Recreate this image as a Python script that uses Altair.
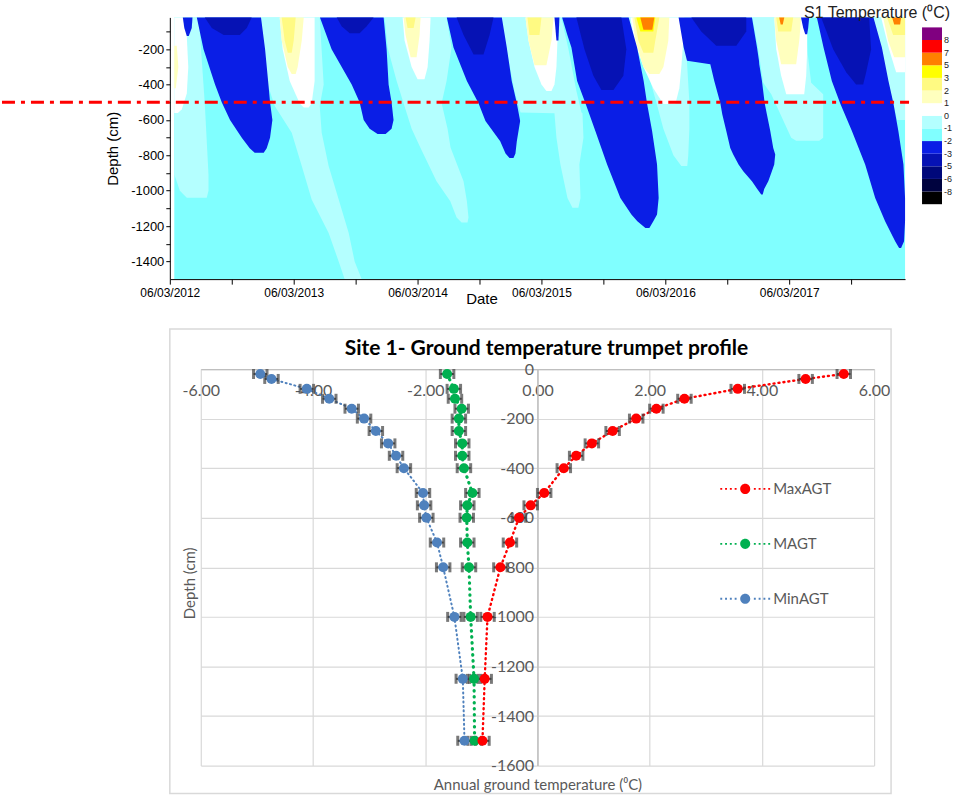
import bisect
import altair as alt
import pandas as pd

# ======================= TOP PANEL: S1 temperature contour =======================
# colour-bar class limits (degC) and class colours, from coldest to warmest
temp_thresholds = [-8, -6, -5, -3, -2, -1, 0, 1, 2, 3, 5, 7, 8]
temp_colors = ["#000000", "#00033F", "#00087A", "#0612B4", "#0A1EE6", "#80FFFF", "#B4FFFF",
               "#FFFFFF", "#FFFFBE", "#FFFA82", "#FFFF00", "#FF8000", "#FF0000", "#800080"]

# time in decimal years (06/03 = .178); ticks every half year
time_range = [2012.178, 2018.113]
date_ticks = [2012.178, 2012.678, 2013.178, 2013.678, 2014.178, 2014.678,
              2015.178, 2015.678, 2016.178, 2016.678, 2017.178, 2017.678]
depth_range = [-1500, -20]
depth_ticks = [-1400, -1300, -1200, -1100, -1000, -900, -800, -700, -600,
               -500, -400, -300, -200, -100]
threshold_line_depth = [-500]

# representative temperature of each contour class
class_temp = {"bg": -1.5, "lc": -0.5, "w": 0.5, "py": 1.5, "ly": 2.5,
              "yl": 4.0, "or": 6.0, "bl": -2.5, "core": -4.0}

# each contour region: [depth (cm), start (year), end (year)]
bg_all = [[-20, 2012.214, 2018.113], [-1500, 2012.214, 2018.113]]

lc_2012 = [[-20, 2012.214, 2012.412], [-506, 2012.214, 2012.460], [-907, 2012.214, 2012.490],
           [-1000, 2012.259, 2012.490], [-1040, 2012.315, 2012.476]]
lc_2013 = [[-20, 2012.912, 2013.388], [-400, 2012.968, 2013.420], [-521, 2013.025, 2013.388],
           [-672, 2013.162, 2013.404], [-860, 2013.243, 2013.460], [-1050, 2013.323, 2013.541],
           [-1239, 2013.460, 2013.622], [-1400, 2013.541, 2013.670], [-1500, 2013.589, 2013.726]]
lc_2014 = [[-20, 2013.912, 2014.412], [-190, 2013.936, 2014.452], [-380, 2014.009, 2014.412],
           [-506, 2014.065, 2014.372], [-650, 2014.130, 2014.420], [-755, 2014.200, 2014.444],
           [-946, 2014.331, 2014.549], [-1060, 2014.442, 2014.576], [-1152, 2014.493, 2014.589],
           [-1180, 2014.533, 2014.581]]
lc_2015 = [[-20, 2014.855, 2015.339], [-200, 2014.896, 2015.396], [-436, 2014.960, 2015.460],
           [-558, 2015.009, 2015.501], [-562, 2015.283, 2015.509], [-700, 2015.299, 2015.517],
           [-852, 2015.331, 2015.484], [-1041, 2015.388, 2015.493], [-1097, 2015.428, 2015.476]]
lc_2016 = [[-20, 2015.880, 2016.291], [-200, 2015.952, 2016.347], [-300, 2016.025, 2016.355],
           [-500, 2016.105, 2016.372], [-650, 2016.162, 2016.372], [-800, 2016.243, 2016.363],
           [-860, 2016.307, 2016.355]]
lc_2017 = [[-20, 2016.880, 2017.315], [-200, 2016.928, 2017.323], [-390, 2016.968, 2017.355],
           [-455, 2017.033, 2017.452], [-700, 2017.194, 2017.452], [-717, 2017.234, 2017.420]]
lc_2018 = [[-20, 2017.855, 2018.113], [-380, 2017.976, 2018.113], [-506, 2018.017, 2018.113],
           [-600, 2018.049, 2018.113]]

w_2012 = [[-20, 2012.214, 2012.299], [-130, 2012.214, 2012.315], [-300, 2012.214, 2012.327],
          [-450, 2012.214, 2012.315], [-540, 2012.214, 2012.275], [-560, 2012.214, 2012.243]]
w_2013 = [[-20, 2013.065, 2013.347], [-200, 2013.089, 2013.347], [-380, 2013.146, 2013.347],
          [-506, 2013.226, 2013.323], [-530, 2013.259, 2013.299]]
w_2014 = [[-20, 2014.057, 2014.283], [-150, 2014.073, 2014.275], [-300, 2014.130, 2014.259],
          [-370, 2014.178, 2014.234]]
w_2015 = [[-20, 2015.049, 2015.307], [-150, 2015.073, 2015.307], [-300, 2015.122, 2015.299],
          [-400, 2015.178, 2015.283], [-436, 2015.218, 2015.259]]
w_2016 = [[-20, 2015.896, 2016.331], [-150, 2015.928, 2016.323], [-300, 2016.001, 2016.307],
          [-420, 2016.081, 2016.291], [-510, 2016.162, 2016.259]]
w_2017 = [[-20, 2017.057, 2017.323], [-200, 2017.073, 2017.323], [-350, 2017.113, 2017.315],
          [-455, 2017.154, 2017.299]]
w_2018 = [[-20, 2017.920, 2018.113], [-200, 2017.984, 2018.113], [-330, 2018.041, 2018.113]]

py_2012 = [[-180, 2012.214, 2012.234], [-300, 2012.214, 2012.247], [-420, 2012.214, 2012.226]]
py_2013 = [[-20, 2013.065, 2013.259], [-150, 2013.081, 2013.243], [-300, 2013.130, 2013.210],
           [-340, 2013.162, 2013.194]]
py_2014 = [[-20, 2014.065, 2014.202], [-120, 2014.081, 2014.194], [-245, 2014.122, 2014.170]]
py_2015 = [[-20, 2015.049, 2015.275], [-150, 2015.073, 2015.259], [-290, 2015.122, 2015.218]]
py_2016 = [[-20, 2015.912, 2016.210], [-150, 2015.936, 2016.202], [-300, 2016.001, 2016.162],
           [-340, 2016.049, 2016.130]]
py_2017 = [[-20, 2017.057, 2017.275], [-150, 2017.073, 2017.259], [-285, 2017.113, 2017.234]]
py_2018 = [[-20, 2017.936, 2018.113], [-150, 2017.976, 2018.113], [-245, 2018.025, 2018.113]]

ly_2013 = [[-20, 2013.081, 2013.194], [-150, 2013.105, 2013.178], [-220, 2013.130, 2013.162]]
ly_2014 = [[-20, 2014.081, 2014.162], [-80, 2014.097, 2014.146]]
ly_2015 = [[-20, 2015.065, 2015.178], [-120, 2015.081, 2015.162]]
ly_2016 = [[-20, 2015.928, 2016.130], [-150, 2015.960, 2016.097], [-220, 2016.001, 2016.081]]
ly_2017 = [[-20, 2017.073, 2017.210], [-100, 2017.089, 2017.194]]
ly_2018 = [[-20, 2017.968, 2018.113], [-120, 2018.017, 2018.113]]

yl_2016 = [[-20, 2015.944, 2016.097], [-100, 2015.976, 2016.081]]

or_2016 = [[-20, 2015.976, 2016.089], [-90, 2016.001, 2016.073]]
or_2017 = [[-20, 2017.097, 2017.138], [-60, 2017.109, 2017.126]]
or_2018 = [[-20, 2018.009, 2018.081], [-60, 2018.025, 2018.073]]

bl_2012a = [[-20, 2012.283, 2012.361], [-80, 2012.295, 2012.355], [-125, 2012.315, 2012.331]]
bl_2012 = [[-20, 2012.396, 2012.914], [-200, 2012.450, 2012.947], [-400, 2012.543, 2012.974],
           [-500, 2012.597, 2012.987], [-600, 2012.664, 2013.006], [-700, 2012.759, 2012.987],
           [-760, 2012.823, 2012.960], [-785, 2012.863, 2012.936]]
bl_2013 = [[-20, 2013.390, 2013.904], [-200, 2013.484, 2013.928], [-400, 2013.646, 2013.944],
           [-500, 2013.710, 2013.968], [-600, 2013.743, 2013.984], [-650, 2013.791, 2013.968],
           [-680, 2013.855, 2013.920]]
bl_2014 = [[-20, 2014.414, 2014.858], [-190, 2014.468, 2014.898], [-380, 2014.576, 2014.938],
           [-506, 2014.670, 2014.979], [-606, 2014.726, 2015.006], [-720, 2014.845, 2014.979],
           [-790, 2014.888, 2014.968], [-815, 2014.920, 2014.952]]
bl_2015a = [[-20, 2015.283, 2015.323], [-150, 2015.299, 2015.315]]
bl_2015 = [[-20, 2015.345, 2015.882], [-115, 2015.385, 2015.920], [-190, 2015.420, 2015.950],
           [-380, 2015.466, 2016.003], [-506, 2015.533, 2016.030], [-663, 2015.613, 2016.071],
           [-852, 2015.708, 2016.111], [-1041, 2015.815, 2016.124], [-1135, 2015.904, 2016.111],
           [-1173, 2015.952, 2016.081], [-1211, 2016.017, 2016.049]]
bl_2016 = [[-20, 2016.285, 2016.877], [-190, 2016.326, 2016.918], [-265, 2016.353, 2016.934],
           [-285, 2016.541, 2016.936], [-380, 2016.573, 2016.958], [-506, 2016.622, 2016.980],
           [-569, 2016.638, 2016.998], [-663, 2016.670, 2017.025], [-758, 2016.702, 2017.049],
           [-795, 2016.726, 2017.065], [-852, 2016.769, 2017.057], [-890, 2016.807, 2017.038],
           [-946, 2016.877, 2017.009], [-990, 2016.920, 2016.976], [-1022, 2016.952, 2016.964]]
bl_2017a = [[-20, 2017.273, 2017.339], [-80, 2017.291, 2017.331], [-115, 2017.307, 2017.323]]
bl_2017 = [[-20, 2017.401, 2017.858], [-190, 2017.455, 2017.926], [-380, 2017.522, 2017.979],
           [-506, 2017.589, 2018.019], [-663, 2017.684, 2018.059], [-852, 2017.791, 2018.100],
           [-1041, 2017.872, 2018.113], [-1173, 2017.952, 2018.113], [-1286, 2018.033, 2018.105],
           [-1324, 2018.065, 2018.081]]

core_2012 = [[-20, 2012.460, 2012.839], [-80, 2012.517, 2012.799], [-120, 2012.613, 2012.743]]
core_2013 = [[-20, 2013.525, 2013.823], [-70, 2013.565, 2013.767], [-110, 2013.630, 2013.710]]
core_2014 = [[-20, 2014.493, 2014.791], [-120, 2014.549, 2014.759], [-230, 2014.630, 2014.710]]
core_2015 = [[-20, 2015.460, 2015.823], [-200, 2015.525, 2015.863], [-350, 2015.597, 2015.839],
             [-430, 2015.662, 2015.759]]
core_2016 = [[-20, 2016.388, 2016.831], [-100, 2016.468, 2016.831], [-180, 2016.589, 2016.751]]
core_2017 = [[-20, 2017.436, 2017.823], [-200, 2017.533, 2017.839], [-330, 2017.638, 2017.799],
             [-400, 2017.718, 2017.775]]

regions = {
    "bg": {"all": bg_all},
    "lc": {"2012": lc_2012, "2013": lc_2013, "2014": lc_2014, "2015": lc_2015,
           "2016": lc_2016, "2017": lc_2017, "2018": lc_2018},
    "w": {"2012": w_2012, "2013": w_2013, "2014": w_2014, "2015": w_2015,
          "2016": w_2016, "2017": w_2017, "2018": w_2018},
    "py": {"2012": py_2012, "2013": py_2013, "2014": py_2014, "2015": py_2015,
           "2016": py_2016, "2017": py_2017, "2018": py_2018},
    "ly": {"2013": ly_2013, "2014": ly_2014, "2015": ly_2015, "2016": ly_2016,
           "2017": ly_2017, "2018": ly_2018},
    "yl": {"2016": yl_2016},
    "or": {"2016": or_2016, "2017": or_2017, "2018": or_2018},
    "bl": {"2012a": bl_2012a, "2012": bl_2012, "2013": bl_2013, "2014": bl_2014,
           "2015a": bl_2015a, "2015": bl_2015, "2016": bl_2016, "2017a": bl_2017a,
           "2017": bl_2017},
    "core": {"2012": core_2012, "2013": core_2013, "2014": core_2014, "2015": core_2015,
             "2016": core_2016, "2017": core_2017},
}

rows = []
for cls, feats in regions.items():
    # colour-bar class (equal-height blocks) that this temperature falls into
    klass = bisect.bisect_right(temp_thresholds, class_temp[cls]) + 0.5
    for key, pts in feats.items():
        for d, s, e in pts:
            rows.append({"id": f"{cls}_{key}", "cls": cls, "klass": klass,
                         "depth": d, "start": s, "end": e})
contour_df = pd.DataFrame(rows)

SANS = "Liberation Sans"
class_bounds = list(range(1, len(temp_thresholds) + 1))
label_array = "[" + ",".join("'%d'" % t for t in temp_thresholds) + "]"

x_top = alt.X(
    "start:Q", title="Date",
    scale=alt.Scale(domain=time_range, nice=False, zero=False),
    axis=alt.Axis(values=date_ticks,
                  labelExpr="abs(datum.value - round(datum.value - 0.178) - 0.178) < 0.01 ? '06/03/' + round(datum.value - 0.178) : ''",
                  labelFlush=False, labelFont=SANS, labelFontSize=12, labelColor="black",
                  tickSize=5, tickColor="black", domainColor="black", grid=False,
                  labelPadding=3, titleFont=SANS, titleFontSize=15, titleFontWeight="normal",
                  titleColor="black", titleX=312, titleY=24, titleBaseline="alphabetic"),
)
y_top = alt.Y(
    "depth:Q", title="Depth (cm)",
    scale=alt.Scale(domain=depth_range, nice=False, zero=False),
    axis=alt.Axis(values=depth_ticks,
                  labelExpr="datum.value % 200 == 0 ? '' + datum.value : ''",
                  labelFont=SANS, labelFontSize=13, labelColor="black",
                  tickSize=4, tickColor="black", domainColor="black", grid=False,
                  labelPadding=2, titleFont=SANS, titleFontSize=15, titleFontWeight="normal",
                  titleColor="black", titlePadding=10),
)
color_top = alt.Color(
    "klass:Q",
    scale=alt.Scale(type="threshold", domain=class_bounds, range=temp_colors),
    legend=alt.Legend(type="gradient", orient="none", legendX=753, legendY=10,
                      direction="vertical", gradientLength=177, gradientThickness=20,
                      gradientStrokeWidth=0, title=None, labelFont=SANS, labelFontSize=9,
                      labelColor="#222222", labelOverlap=False, labelOffset=2,
                      labelExpr="isValid(datum.value) && datum.value >= 1 ? "
                                + label_array + "[round(datum.value) - 1] : ''"),
)

band_layers = []
for cls in ["bg", "lc", "w", "py", "ly", "yl", "or", "bl", "core"]:
    band_layers.append(
        alt.Chart().mark_area(orient="horizontal", interpolate="linear")
        .encode(y=y_top, x=x_top, x2="end:Q", detail="id:N", color=color_top)
        .transform_filter(alt.datum.cls == cls)
    )

red_line = alt.Chart(pd.DataFrame({"depth": threshold_line_depth})).mark_rule(
    color="#FF0000", strokeWidth=3, strokeDash=[13, 6, 4, 6]
).encode(y=y_top, x=alt.value(-168), x2=alt.value(740))

top = alt.layer(*band_layers, red_line, data=contour_df).properties(
    width=736, height=262,
    title=alt.TitleParams("S1 Temperature (\u2070C)", anchor="end", frame="bounds",
                          fontSize=16, fontWeight="normal", font=SANS, color="#222222",
                          offset=-4, dx=-3),
)

# ======================= BOTTOM PANEL: trumpet profile =======================
depth_cm = [-20, -40, -80, -120, -160, -200, -250, -300, -350, -400, -500, -550, -600,
            -700, -800, -1000, -1250, -1500]
max_agt = [5.46, 4.78, 3.57, 2.62, 2.12, 1.76, 1.34, 0.97, 0.69, 0.47, 0.12, -0.12, -0.33,
           -0.49, -0.66, -0.89, -0.94, -0.98]
mean_agt = [-1.61, None, -1.49, -1.47, -1.35, -1.40, -1.40, -1.34, -1.34, -1.31, -1.16, -1.25,
            -1.26, -1.25, -1.22, -1.19, -1.13, -1.12]
min_agt = [-4.94, -4.74, -4.11, -3.71, -3.31, -3.09, -2.88, -2.66, -2.52, -2.38, -2.04, -2.02,
           -1.98, -1.79, -1.68, -1.48, -1.33, -1.30]
series_names = ["MaxAGT", "MAGT", "MinAGT"]
series_colors = ["#FF0000", "#00B050", "#4F81BD"]
err_half = 0.12
temp_ticks = [-6, -4, -2, 0, 2, 4, 6]
prof_depth_ticks = [0, -200, -400, -600, -800, -1000, -1200, -1400, -1600]

prow = []
for name, vals in [("MinAGT", min_agt), ("MAGT", mean_agt), ("MaxAGT", max_agt)]:
    for d, v in zip(depth_cm, vals):
        if v is not None:
            prow.append({"series": name, "depth": d, "temp": v})
prof_df = pd.DataFrame(prow)

CAL = "Lato"
GREY = "#595959"
x_scale_b = alt.Scale(domain=[-6, 6], nice=False, zero=False)
y_scale_b = alt.Scale(domain=[-1600, 0], nice=False, zero=False)
x_axis_b = alt.Axis(orient="bottom", offset=-397, values=temp_ticks,
                    labelExpr="(datum.value < 0 ? '-' : '') + format(abs(datum.value), '.2f')",
                    ticks=False, grid=True, gridColor="#D9D9D9", gridWidth=1.2,
                    domainColor="#BFBFBF", domainWidth=1.2, labelColor=GREY, labelFont=CAL,
                    labelFontSize=16, labelPadding=13, labelFlush=False,
                    titleFont=CAL, titleFontSize=15, titleColor=GREY, titleFontWeight="normal",
                    titleY=416, titleBaseline="middle")
y_axis_b = alt.Axis(orient="left", offset=-337, values=prof_depth_ticks,
                    labelExpr="'' + datum.value", ticks=False, grid=True,
                    gridColor="#D9D9D9", gridWidth=1.2, domainColor="#BFBFBF", domainWidth=1.5,
                    labelColor=GREY, labelFont=CAL, labelFontSize=16, labelPadding=4,
                    titleFont=CAL, titleFontSize=15, titleColor=GREY, titleFontWeight="normal",
                    titleX=-348, titleY=214, titleBaseline="middle", titleAngle=270)
XT = "Annual ground temperature (\u2070C)"
YT = "Depth (cm)"


def xb(field):
    return alt.X(field, title=XT, scale=x_scale_b, axis=x_axis_b)


def yb():
    return alt.Y("depth:Q", title=YT, scale=y_scale_b, axis=y_axis_b)


base_b = alt.Chart(prof_df)

line_style = {"MinAGT": (2.0, [1, 3.5]), "MAGT": (3.2, [0.5, 5.5]), "MaxAGT": (2.4, [1, 4])}
line_layers = []
for name, col in zip(series_names[::-1], series_colors[::-1]):
    w, dash = line_style[name]
    line_layers.append(
        base_b.transform_filter(alt.datum.series == name)
        .mark_line(color=col, strokeWidth=w, strokeDash=dash, strokeCap="round")
        .encode(x=xb("temp:Q"), y=yb(), order=alt.Order("depth:Q", sort="descending"))
    )

err_base = base_b.transform_calculate(lo=f"datum.temp - {err_half}", hi=f"datum.temp + {err_half}")
err_bar = err_base.mark_rule(color="#404040", strokeWidth=2).encode(
    x=xb("lo:Q"), x2="hi:Q", y=yb())
err_caps = err_base.transform_fold(["lo", "hi"], as_=["end", "xv"]).mark_tick(
    color="#404040", orient="vertical", thickness=3, size=10
).encode(x=xb("xv:Q"), y=yb())

legend_path = ("M0.21,0A0.21,0.21,0,1,1,-0.21,0A0.21,0.21,0,1,1,0.21,0Z"
               "M-1.04,-0.04h0.08v0.08h-0.08Z M-0.84,-0.04h0.08v0.08h-0.08Z"
               "M-0.64,-0.04h0.08v0.08h-0.08Z M-0.44,-0.04h0.08v0.08h-0.08Z"
               "M0.36,-0.04h0.08v0.08h-0.08Z M0.56,-0.04h0.08v0.08h-0.08Z"
               "M0.76,-0.04h0.08v0.08h-0.08Z M0.96,-0.04h0.08v0.08h-0.08Z")

points = base_b.mark_point(filled=True, size=100, opacity=1).encode(
    x=xb("temp:Q"), y=yb(),
    color=alt.Color("series:N",
                    scale=alt.Scale(domain=series_names, range=series_colors),
                    legend=alt.Legend(orient="none", legendX=521, legendY=96, title=None,
                                      symbolType=legend_path, symbolSize=2304,
                                      symbolStrokeWidth=0, symbolOpacity=1,
                                      labelFont=CAL, labelFontSize=15, labelColor=GREY,
                                      labelOffset=4, rowPadding=23, padding=0)),
)

frame_box = alt.Chart(pd.DataFrame({"k": [0]})).mark_rect(
    fill=None, stroke="#D9D9D9", strokeWidth=1.5
).encode(x=alt.value(-31), x2=alt.value(691), y=alt.value(-40), y2=alt.value(425))

bottom = alt.layer(frame_box, *line_layers, err_bar, err_caps, points).properties(
    width=674, height=397,
    title=alt.TitleParams("Site 1- Ground temperature trumpet profile", font=CAL,
                          fontSize=21, fontWeight="bold", color="black",
                          anchor="middle", frame="group", offset=-31, dx=9),
)

chart = alt.vconcat(top, bottom, spacing=90, center=True, bounds="flush").resolve_scale(
    color="independent"
).properties(
    padding={"left": 0, "top": 5, "right": 0, "bottom": 0}
).configure_view(stroke=None)

chart.save("out.html", embed_options={"renderer": "svg", "actions": False})
